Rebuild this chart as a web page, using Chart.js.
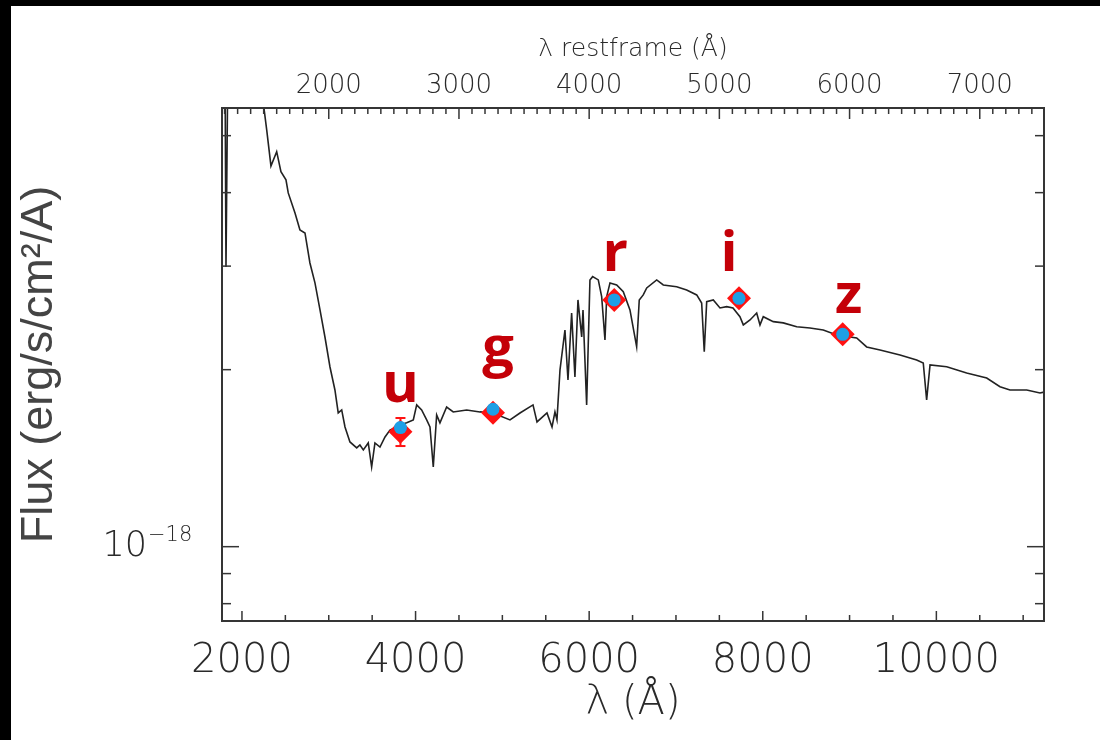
<!DOCTYPE html>
<html>
<head>
<meta charset="utf-8">
<title>Spectrum with ugriz photometry</title>
<script src="https://cdn.jsdelivr.net/npm/chart.js@4.4.1/dist/chart.umd.min.js"></script>
<style>
  html, body { margin: 0; padding: 0; background: #000; }
  #wrap { width: 1100px; height: 740px; }
</style>
</head>
<body>
<div id="wrap"><canvas id="sedChart" width="1100" height="740"></canvas></div>
<script>
// observed wavelength (A) and flux (units of 1e-18 erg/s/cm2/A)
const redshift = 0.5;
const specWave = [
    1804, 1816, 1839, 2230, 2253, 2285, 2334, 2400, 2449, 2507,
    2533, 2611, 2668, 2726, 2783, 2841, 2899, 2956, 3014, 3071,
    3109, 3149, 3187, 3244, 3322, 3359, 3398, 3455, 3494, 3532,
    3590, 3648, 3705, 3782, 3855, 3898, 3974, 4013, 4070, 4128,
    4166, 4204, 4243, 4281, 4358, 4434, 4589, 4742, 4892, 5088,
    5203, 5353, 5399, 5514, 5572, 5606, 5629, 5664, 5721, 5756,
    5798, 5836, 5871, 5914, 5929, 5971, 6009, 6040, 6105, 6144,
    6182, 6202, 6240, 6317, 6393, 6470, 6547, 6577, 6623, 6663,
    6778, 6854, 7008, 7123, 7239, 7296, 7326, 7354, 7430, 7507,
    7584, 7657, 7737, 7776, 7853, 7930, 7968, 8006, 8121, 8236,
    8391, 8544, 8697, 8852, 9082, 9197, 9351, 9581, 9773, 9849,
    9888, 9927, 10119, 10349, 10580, 10733, 10848, 11041, 11194, 11240
];
const specFlux = [
    7.0, 2.990, 7.0, 7.0, 5.573, 5.113, 4.441, 4.697, 4.344, 4.205,
    3.996, 3.694, 3.456, 3.416, 3.037, 2.809, 2.527, 2.273, 2.021, 1.847,
    1.688, 1.708, 1.598, 1.507, 1.472, 1.489, 1.461, 1.501, 1.366, 1.501,
    1.477, 1.537, 1.579, 1.598, 1.617, 1.624, 1.643, 1.742, 1.708, 1.643,
    1.598, 1.366, 1.675, 1.624, 1.728, 1.695, 1.708, 1.695, 1.688, 1.643,
    1.688, 1.742, 1.630, 1.688, 1.598, 1.695, 1.643, 1.998, 2.336, 1.921,
    2.497, 1.944, 2.628, 2.273, 2.527, 1.742, 2.842, 2.879, 2.842, 2.662,
    2.246, 2.662, 2.809, 2.787, 2.715, 2.527, 2.188, 2.628, 2.680, 2.754,
    2.842, 2.787, 2.768, 2.733, 2.680, 2.597, 2.146, 2.610, 2.628, 2.547,
    2.560, 2.547, 2.461, 2.383, 2.430, 2.497, 2.383, 2.461, 2.414, 2.402,
    2.366, 2.354, 2.336, 2.291, 2.264, 2.186, 2.160, 2.118, 2.077, 2.053,
    1.776, 2.037, 2.023, 1.974, 1.936, 1.871, 1.847, 1.847, 1.825, 1.832
];

const bands = ['u', 'g', 'r', 'i', 'z'];
const bandWave = [3826, 4892, 6289, 7726, 8921];
const bandModel = [1.594, 1.713, 2.628, 2.645, 2.297];
const bandObs = [1.569, 1.690, 2.628, 2.645, 2.297];
const uErrorRange = [1.655, 1.483];

const bottomTicks = [2000, 4000, 6000, 8000, 10000];
const topTicks = [2000, 3000, 4000, 5000, 6000, 7000];
const yTicks = [1];
const yTickExponent = '−18';
const yMinorTicks = [0.8, 0.9, 2, 3, 4, 5];

const waveMin = 1770;
const waveMax = 11240;
const fluxMin = 0.7475;
const fluxMax = 5.572;

// where each band letter sits relative to its marker (px)
const labelShift = { u: [0, -26], g: [5, -43], r: [1, -29], i: [-10, -27], z: [6, -21] };

const backgroundPlugin = {
    id: 'background',
    beforeDraw(chart) {
        const c = chart.ctx;
        c.save();
        c.fillStyle = '#000';
        c.fillRect(0, 0, chart.width, chart.height);
        c.fillStyle = '#fff';
        c.fillRect(11, 6, chart.width - 11, chart.height - 6);
        c.restore();
    }
};

const frameTicksPlugin = {
    id: 'frameTicks',
    afterDatasetsDraw(chart) {
        const c = chart.ctx;
        const a = chart.chartArea;
        const sx = chart.scales.x, st = chart.scales.xTop, sy = chart.scales.y;
        c.save();
        c.strokeStyle = '#353535';
        c.lineWidth = 1.5;
        function seg(x1, y1, x2, y2) {
            c.beginPath(); c.moveTo(x1, y1); c.lineTo(x2, y2); c.stroke();
        }
        for (let v = 2000; v <= waveMax; v += 500) {
            const px = sx.getPixelForValue(v);
            const len = bottomTicks.includes(v) ? 10 : 6;
            seg(px, a.bottom, px, a.bottom - len);
        }
        for (let v = 1200; v <= waveMax / (1 + redshift); v += 100) {
            const px = st.getPixelForValue(v);
            const len = v % 1000 === 0 ? 11 : 6;
            seg(px, a.top, px, a.top + len);
        }
        yTicks.concat(yMinorTicks).forEach(function(v) {
            const py = sy.getPixelForValue(v);
            const len = yTicks.includes(v) ? 17 : 9;
            seg(a.left, py, a.left + len, py);
            seg(a.right, py, a.right - len, py);
        });
        c.lineWidth = 2;
        c.strokeRect(a.left, a.top, a.right - a.left, a.bottom - a.top);

        // exponent of the y tick label
        c.fillStyle = ink;
        c.font = '200 21px "DejaVu Sans"';
        c.textAlign = 'left';
        c.textBaseline = 'middle';
        yTicks.forEach(function(v) {
            c.fillText(yTickExponent, a.left - 74, sy.getPixelForValue(v) - 11);
        });
        c.restore();
    }
};

const bandLabelPlugin = {
    id: 'bandLabels',
    afterDatasetsDraw(chart) {
        const c = chart.ctx;
        const sx = chart.scales.x, sy = chart.scales.y;
        c.save();
        c.fillStyle = '#c40008';
        c.font = 'bold 56px "Open Sans"';
        c.textAlign = 'center';
        c.textBaseline = 'alphabetic';
        bands.forEach(function(b, i) {
            const px = sx.getPixelForValue(bandWave[i]) + labelShift[b][0];
            const py = sy.getPixelForValue(bandModel[i]) + labelShift[b][1];
            c.fillText(b, px, py);
        });
        c.restore();
    }
};

const ink = '#2a2a2a';

const ctx = document.getElementById('sedChart').getContext('2d');
const chart = new Chart(ctx, {
    type: 'line',
    data: {
        datasets: [
            {
                label: 'model',
                data: bandWave.map((w, i) => ({ x: w, y: bandModel[i] })),
                showLine: false,
                pointStyle: 'circle',
                pointRadius: 6.5,
                pointBackgroundColor: '#1e9fe6',
                pointBorderWidth: 0
            },
            {
                label: 'observed',
                data: bandWave.map((w, i) => ({ x: w, y: bandObs[i] })),
                showLine: false,
                pointStyle: 'rectRot',
                pointRadius: 12,
                pointBackgroundColor: '#ff1212',
                pointBorderWidth: 0
            },
            {
                label: 'u error',
                data: uErrorRange.map(f => ({ x: bandWave[0], y: f })),
                showLine: true,
                borderColor: '#ff1212',
                borderWidth: 2,
                pointStyle: 'line',
                pointRadius: 5,
                pointBorderColor: '#ff1212',
                pointBorderWidth: 2
            },
            {
                label: 'spectrum',
                data: specWave.map((w, i) => ({ x: w, y: specFlux[i] })),
                borderColor: '#222',
                borderWidth: 1.6,
                pointRadius: 0,
                tension: 0
            }
        ]
    },
    options: {
        responsive: false,
        animation: false,
        layout: { padding: { left: 0, right: 56, top: 0, bottom: 0 } },
        plugins: {
            legend: { display: false },
            tooltip: { enabled: false }
        },
        scales: {
            x: {
                type: 'linear',
                position: 'bottom',
                bounds: 'data',
                min: waveMin,
                max: waveMax,
                afterBuildTicks: s => { s.ticks = bottomTicks.map(v => ({ value: v })); },
                afterFit: s => { s.height = 119; },
                grid: { display: false, drawTicks: false },
                border: { display: false },
                ticks: {
                    padding: 17,
                    font: { family: 'DejaVu Sans', size: 40, weight: '200' },
                    color: ink,
                    maxRotation: 0,
                    autoSkip: false,
                    callback: v => String(v)
                },
                title: {
                    display: true,
                    text: 'λ (Å)',
                    font: { family: 'DejaVu Sans', size: 40, weight: '200' },
                    color: ink,
                    padding: { top: 0, bottom: 12 }
                }
            },
            xTop: {
                type: 'linear',
                position: 'top',
                bounds: 'data',
                min: waveMin / (1 + redshift),
                max: waveMax / (1 + redshift),
                afterBuildTicks: s => { s.ticks = topTicks.map(v => ({ value: v })); },
                afterFit: s => { s.height = 108; },
                grid: { display: false, drawTicks: false },
                border: { display: false },
                ticks: {
                    padding: 6,
                    font: { family: 'DejaVu Sans', size: 26, weight: '200' },
                    color: ink,
                    maxRotation: 0,
                    autoSkip: false,
                    callback: v => String(v)
                },
                title: {
                    display: true,
                    text: 'λ restframe (Å)',
                    font: { family: 'DejaVu Sans', size: 25, weight: '200' },
                    color: ink,
                    padding: { top: 34, bottom: 0 }
                }
            },
            y: {
                type: 'logarithmic',
                position: 'left',
                bounds: 'data',
                min: fluxMin,
                max: fluxMax,
                afterBuildTicks: s => { s.ticks = yTicks.map(v => ({ value: v })); },
                afterFit: s => { s.width = 222; },
                grid: { display: false, drawTicks: false },
                border: { display: false },
                ticks: {
                    padding: 75,
                    font: { family: 'DejaVu Sans', size: 35, weight: '200' },
                    color: ink,
                    callback: () => '10'
                },
                title: {
                    display: true,
                    text: 'Flux (erg/s/cm²/A)',
                    font: { family: 'Liberation Sans', size: 45 },
                    color: '#444',
                    padding: { top: 13, bottom: 0 }
                }
            }
        }
    },
    plugins: [backgroundPlugin, frameTicksPlugin, bandLabelPlugin]
});
</script>
</body>
</html>
